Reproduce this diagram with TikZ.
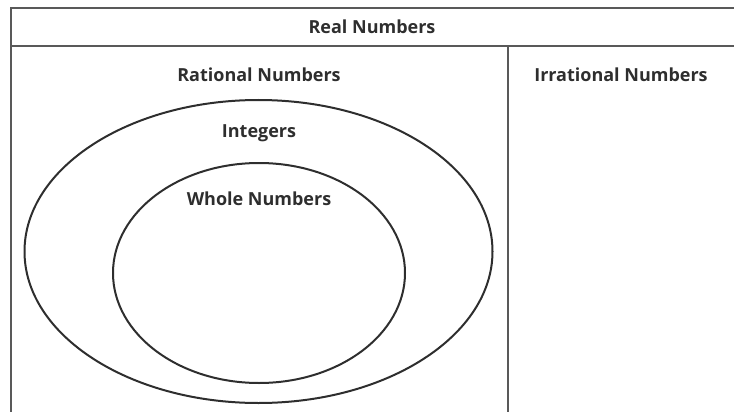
\documentclass[tikz,border=0pt]{standalone}
\usepackage{fontspec}
\setmainfont{Open Sans}
\begin{document}
\begin{tikzpicture}[x=1pt,y=1pt,
  frame/.style={draw=black!65,line width=1.4pt},
  ring/.style={draw=black!82,line width=2pt},
  lbl/.style={font=\bfseries\fontsize{18}{21}\selectfont,text=black!82,inner sep=0pt}]
\useasboundingbox (0,0) rectangle (734,-412);
\begin{scope}
\clip (0,0) rectangle (734,-412);
\draw[frame] (11,-440) -- (11,-8) -- (760,-8);
\draw[frame] (11,-46) -- (760,-46);
\draw[frame] (508,-46) -- (508,-440);
\end{scope}
\draw[ring] (258.5,-251.5) ellipse [x radius=234, y radius=151.5];
\draw[ring] (259,-273) ellipse [x radius=146, y radius=110];
\node[lbl] (real) at (372,-27) {Real Numbers};
\node[lbl] (rational) at (259,-75) {Rational Numbers};
\node[lbl] (irrational) at (621,-75) {Irrational Numbers};
\node[lbl] (integers) at (259,-133) {Integers};
\node[lbl] (whole) at (259,-199) {Whole Numbers};
\end{tikzpicture}
\end{document}
